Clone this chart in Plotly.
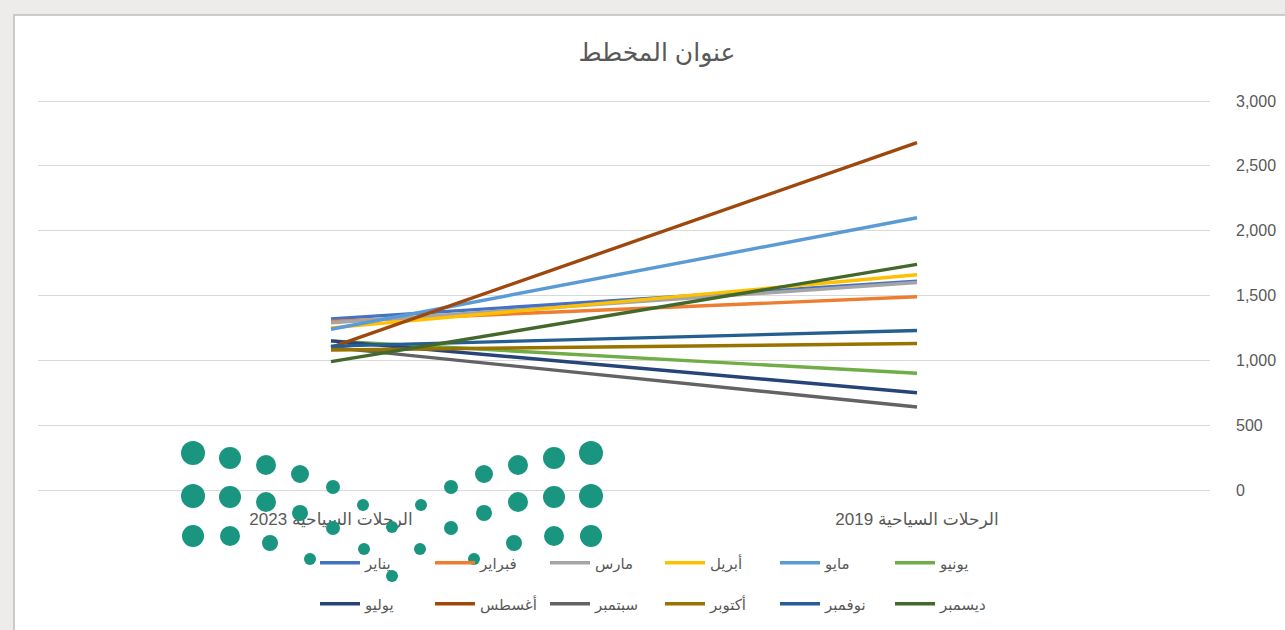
import plotly.graph_objects as go

# ---------------- data ----------------
categories = ["الرحلات السياحية 2019", "الرحلات السياحية 2023"]
months = ["يناير", "فبراير", "مارس", "أبريل", "مايو", "يونيو",
          "يوليو", "أغسطس", "سبتمبر", "أكتوبر", "نوفمبر", "ديسمبر"]
trips_2019 = [1610, 1490, 1600, 1660, 2100, 900, 750, 2680, 640, 1130, 1230, 1740]
trips_2023 = [1320, 1300, 1290, 1250, 1240, 1150, 1150, 1100, 1100, 1080, 1110, 990]
colors = ["#4472C4", "#ED7D31", "#A5A5A5", "#FFC000", "#5B9BD5", "#70AD47",
          "#264478", "#9E480E", "#636363", "#997300", "#255E91", "#43682B"]
y_ticks = [0, 500, 1000, 1500, 2000, 2500, 3000]
title_text = "عنوان المخطط"

# ---------------- layout geometry (pixels) ----------------
W, H = 1285, 630
L, R, T, B = 38, 1210, 100, 490
pw, ph = R - L, B - T


def px_x(p):
    return (p - L) / pw


def px_y(p):
    return (B - p) / ph


FONT = "Liberation Sans, DejaVu Sans, Arial, sans-serif"
GREY_TXT = "#595959"

fig = go.Figure()
for i, m in enumerate(months):
    fig.add_trace(go.Scatter(
        x=categories,
        y=[trips_2019[i], trips_2023[i]],
        name=m,
        mode="lines",
        line=dict(color=colors[i], width=3.4),
        legend="legend" if i < 6 else "legend2",
        hoverinfo="skip",
    ))

shapes = [
    # chart frame
    dict(type="rect", xref="paper", yref="paper", layer="below",
         x0=px_x(14), x1=px_x(1320), y0=px_y(660), y1=px_y(15),
         fillcolor="white", line=dict(color="#BDBDBD", width=1.5)),
]

# decorative watermark logo (dots) from the source picture
cx = 392
logo = [
    # (dx, y, r)
    (199, 453, 12), (162, 458, 11), (126, 465, 10), (92, 474, 9), (59, 487, 7),
    (199, 496, 12), (162, 497, 11), (126, 502, 10), (92, 513, 8), (59, 528, 7), (29, 505, 6),
    (199, 536, 11), (162, 536, 10), (122, 543, 8), (82, 559, 6), (28, 549, 6),
]
centre = [(527, 6), (576, 6)]
for dx, yy, r in logo:
    for sgn in (-1, 1):
        xx = cx + sgn * dx
        shapes.append(dict(type="circle", xref="paper", yref="paper", layer="above",
                           x0=px_x(xx - r), x1=px_x(xx + r), y0=px_y(yy + r), y1=px_y(yy - r),
                           fillcolor="#199580", line=dict(width=0)))
for yy, r in centre:
    shapes.append(dict(type="circle", xref="paper", yref="paper", layer="above",
                       x0=px_x(cx - r), x1=px_x(cx + r), y0=px_y(yy + r), y1=px_y(yy - r),
                       fillcolor="#199580", line=dict(width=0)))

legend_common = dict(
    orientation="h",
    xref="container", yref="container",
    xanchor="left", yanchor="middle",
    font=dict(family=FONT, size=15, color=GREY_TXT),
    bgcolor="rgba(0,0,0,0)",
    entrywidthmode="pixels", entrywidth=60,
    itemwidth=40,
    itemclick=False, itemdoubleclick=False,
)

fig.update_layout(
    width=W, height=H,
    margin=dict(l=L, r=W - R, t=T, b=H - B, autoexpand=False),
    paper_bgcolor="#EEECEA",
    plot_bgcolor="white",
    font=dict(family=FONT, color=GREY_TXT),
    title=dict(text=title_text, x=657 / W, y=1 - 52 / H, xanchor="center", yanchor="middle",
               font=dict(family=FONT, size=25, color=GREY_TXT)),
    showlegend=True,
    legend=dict(**legend_common, x=315 / W, y=1 - 563 / H),
    legend2=dict(**legend_common, x=315 / W, y=1 - 604 / H),
    xaxis=dict(
        type="category",
        range=[1.5, -0.5],
        showgrid=False,
        showline=False,
        zeroline=False,
        ticks="",
        ticklabelstandoff=17,
        tickfont=dict(family=FONT, size=17, color=GREY_TXT),
        fixedrange=True,
    ),
    yaxis=dict(
        side="right",
        range=[0, 3008],
        tickvals=y_ticks,
        tickformat=",",
        showgrid=True,
        gridcolor="#D9D9D9",
        gridwidth=1,
        zeroline=True,
        zerolinecolor="#D9D9D9",
        zerolinewidth=1,
        showline=False,
        ticks="",
        ticklabelstandoff=25,
        tickfont=dict(family=FONT, size=16, color=GREY_TXT),
        fixedrange=True,
    ),
    shapes=shapes,
)

fig.write_html("out.html",
               config={"displayModeBar": False},
               post_script="document.body.style.margin='0';document.body.style.overflow='hidden';")
